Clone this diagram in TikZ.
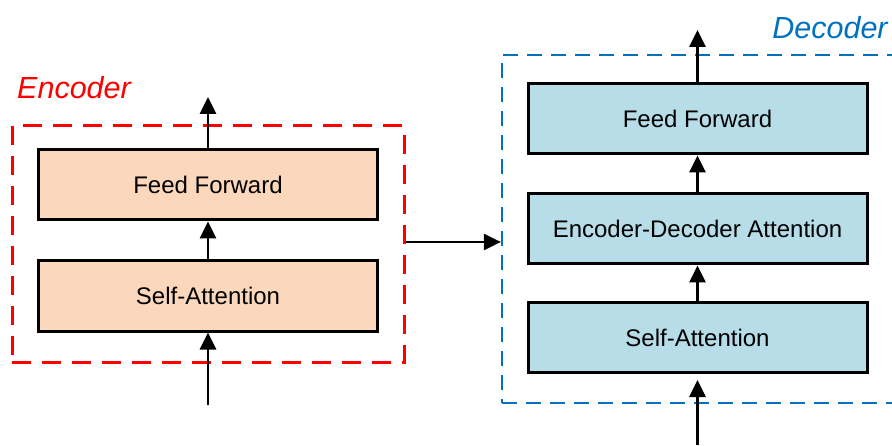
\documentclass[tikz,border=0pt]{standalone}
\usepackage{fontspec}
\setmainfont{Liberation Sans}
\usetikzlibrary{arrows.meta}
\definecolor{peach}{HTML}{FBD7BB}
\definecolor{aqua}{HTML}{B7DEE8}
\definecolor{encred}{HTML}{FF0000}
\definecolor{decblue}{HTML}{0070C0}
\tikzset{
  layerbox/.style={draw=black, line width=3pt, minimum width=339pt, minimum height=70pt, inner sep=0pt, font=\fontsize{24}{28}\selectfont},
  encbox/.style={layerbox, fill=peach},
  decbox/.style={layerbox, fill=aqua},
  arr/.style={line width=2.8pt, -{Triangle[length=17pt,width=16pt]}},
  encframe/.style={draw=encred, line width=3pt, dash pattern=on 19pt off 11pt, minimum width=392pt, minimum height=236pt, inner sep=0pt},
  decframe/.style={draw=decblue, line width=2.2pt, dash pattern=on 15pt off 9pt, minimum width=398pt, minimum height=348pt, inner sep=0pt},
  framelabel/.style={font=\fontsize{30.5}{36}\selectfont\itshape, anchor=base}
}
\begin{document}
\begin{tikzpicture}[x=1pt,y=1pt]
\useasboundingbox (0,0) rectangle (892,445);
% encoder
\node[encframe] (encf) at (208,201) {};
\node[framelabel, text=encred] (enclab) at (74,346) {Encoder};
\node[encbox] (eff) at (208,260) {Feed Forward};
\node[encbox] (esa) at (208,149) {Self-Attention};
\coordinate (ein) at (208,40);
\coordinate (eout) at (208,348);
\draw[arr] (ein) -- (esa.south);
\draw[arr] (esa.north) -- (eff.south);
\draw[arr] (eff.north) -- (eout);
% decoder
\node[decframe] (decf) at (701,216) {};
\node[framelabel, text=decblue] (declab) at (830,406) {Decoder};
\node[decbox] (dff) at (697.5,326) {Feed Forward};
\node[decbox] (deda) at (697.5,216) {Encoder-Decoder Attention};
\node[decbox] (dsa) at (697.5,107.5) {Self-Attention};
\coordinate (din) at (697.5,0);
\coordinate (dout) at (697.5,415);
\draw[arr, shorten >=6pt] (din) -- (dsa.south);
\draw[arr] (dsa.north) -- (deda.south);
\draw[arr] (deda.north) -- (dff.south);
\draw[arr] (dff.north) -- (dout);
% link
\draw[arr] (encf.east |- 0,203) -- (decf.west |- 0,203);
\end{tikzpicture}
\end{document}
